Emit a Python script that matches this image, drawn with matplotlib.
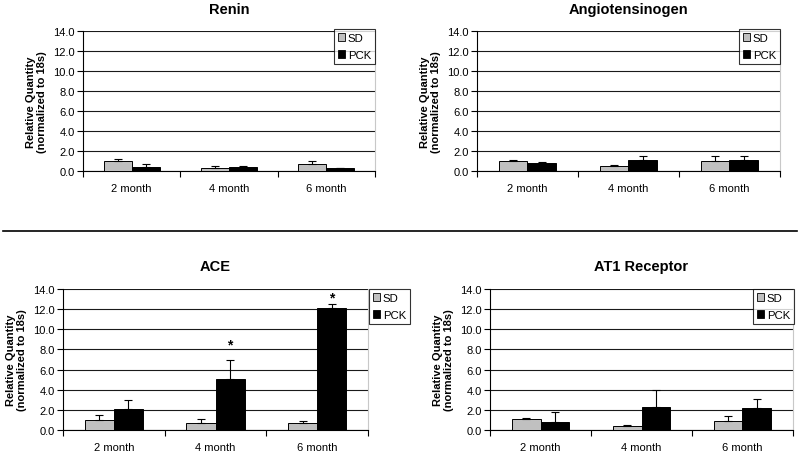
import numpy as np
import matplotlib.pyplot as plt
from matplotlib.patches import Patch

months = ['2 month', '4 month', '6 month']

renin_sd = [0.97, 0.27, 0.73]
renin_sd_err = [0.23, 0.26, 0.30]
renin_pck = [0.45, 0.37, 0.27]
renin_pck_err = [0.30, 0.16, 0.06]

agt_sd = [0.97, 0.53, 0.97]
agt_sd_err = [0.16, 0.10, 0.56]
agt_pck = [0.80, 1.07, 1.07]
agt_pck_err = [0.10, 0.46, 0.46]

ace_sd = [0.96, 0.66, 0.73]
ace_sd_err = [0.54, 0.40, 0.13]
ace_pck = [2.10, 5.07, 12.15]
ace_pck_err = [0.85, 1.88, 0.33]
ace_star = [None, 8.5, 13.15]

at1_sd = [1.06, 0.36, 0.90]
at1_sd_err = [0.16, 0.17, 0.49]
at1_pck = [0.80, 2.28, 2.18]
at1_pck_err = [0.95, 1.69, 0.87]

W, H = 800, 456
fig = plt.figure(figsize=(8, 4.56), dpi=100)
plt.rcParams['font.family'] = ['Liberation Sans', 'DejaVu Sans']


def px_axes(l, t, r, b):
    return fig.add_axes([l / W, (H - b) / H, (r - l) / W, (b - t) / H])


def panel(ax, title, sd, sd_err, pck, pck_err, leg_corner, star=None, title_pad=10):
    x = np.arange(len(months))
    w = 0.286
    z = np.zeros(len(months))
    ekw = dict(ecolor='black', elinewidth=0.8, capsize=3, capthick=0.8)
    ax.bar(x - w / 2, sd, w, color='#c0c0c0', edgecolor='black', linewidth=0.7,
           yerr=[z, sd_err], error_kw=ekw, zorder=3)
    ax.bar(x + w / 2, pck, w, color='black', edgecolor='black', linewidth=0.7,
           yerr=[z, pck_err], error_kw=ekw, zorder=3)
    if star is not None:
        for i, s in enumerate(star):
            if s is not None:
                ax.text(x[i] + w / 2, s, '*', ha='center', va='center', fontsize=10, fontweight='bold')
    ax.set_xlim(-0.5, 2.5)
    ax.set_ylim(0, 14)
    ax.set_yticks(np.arange(0, 14.1, 2))
    ax.set_yticklabels(['%.1f' % v for v in np.arange(0, 14.1, 2)], fontsize=8)
    ax.set_xticks(x)
    ax.set_xticklabels(months, fontsize=8)
    ax.set_xticks([-0.5, 0.5, 1.5, 2.5], minor=True)
    ax.tick_params(axis='x', which='major', length=0, pad=9)
    ax.tick_params(axis='x', which='minor', length=4, width=0.8, direction='out')
    ax.tick_params(axis='y', length=4, width=0.8, direction='out', pad=2)
    ax.grid(axis='y', color='#1a1a1a', linewidth=0.8, zorder=0)
    ax.set_axisbelow(True)
    ax.spines['top'].set_visible(False)
    ax.spines['right'].set_color('#c8c8c8')
    ax.spines['right'].set_linewidth(0.8)
    ax.spines['left'].set_linewidth(0.8)
    ax.spines['bottom'].set_linewidth(0.8)
    ax.set_ylabel('Relative Quantity\n(normalized to 18s)', fontsize=8, fontweight='bold', labelpad=4)
    ax.set_title(title, fontsize=10.5, fontweight='bold', pad=title_pad)
    handles = [Patch(facecolor='#c0c0c0', edgecolor='black', linewidth=0.6, label='SD'),
               Patch(facecolor='black', edgecolor='black', linewidth=0.6, label='PCK')]
    r, t = leg_corner
    leg = ax.legend(handles=handles, loc='upper right',
                    bbox_to_anchor=(r / W, (H - t) / H), bbox_transform=fig.transFigure,
                    fontsize=8.2, frameon=True, fancybox=False, edgecolor='black',
                    handlelength=0.65, handleheight=0.65, handletextpad=0.25,
                    borderpad=0.35, labelspacing=0.6, borderaxespad=0)
    leg.get_frame().set_linewidth(0.8)
    leg.set_zorder(5)


ax1 = px_axes(83, 32, 375, 172)
panel(ax1, 'Renin', renin_sd, renin_sd_err, renin_pck, renin_pck_err, (375, 30), title_pad=13)

ax2 = px_axes(477, 32, 780, 172)
panel(ax2, 'Angiotensinogen', agt_sd, agt_sd_err, agt_pck, agt_pck_err, (780, 30), title_pad=13)

ax3 = px_axes(63, 290, 368, 431)
panel(ax3, 'ACE', ace_sd, ace_sd_err, ace_pck, ace_pck_err, (410, 290), star=ace_star, title_pad=14)

ax4 = px_axes(490, 290, 793, 431)
panel(ax4, 'AT1 Receptor', at1_sd, at1_sd_err, at1_pck, at1_pck_err, (794, 290), title_pad=14)

# separator between the two rows
fig.add_artist(plt.Line2D([3 / W, 797 / W], [(H - 232) / H, (H - 232) / H], color='black', linewidth=1.2))

fig.savefig('out.png', dpi=100)
